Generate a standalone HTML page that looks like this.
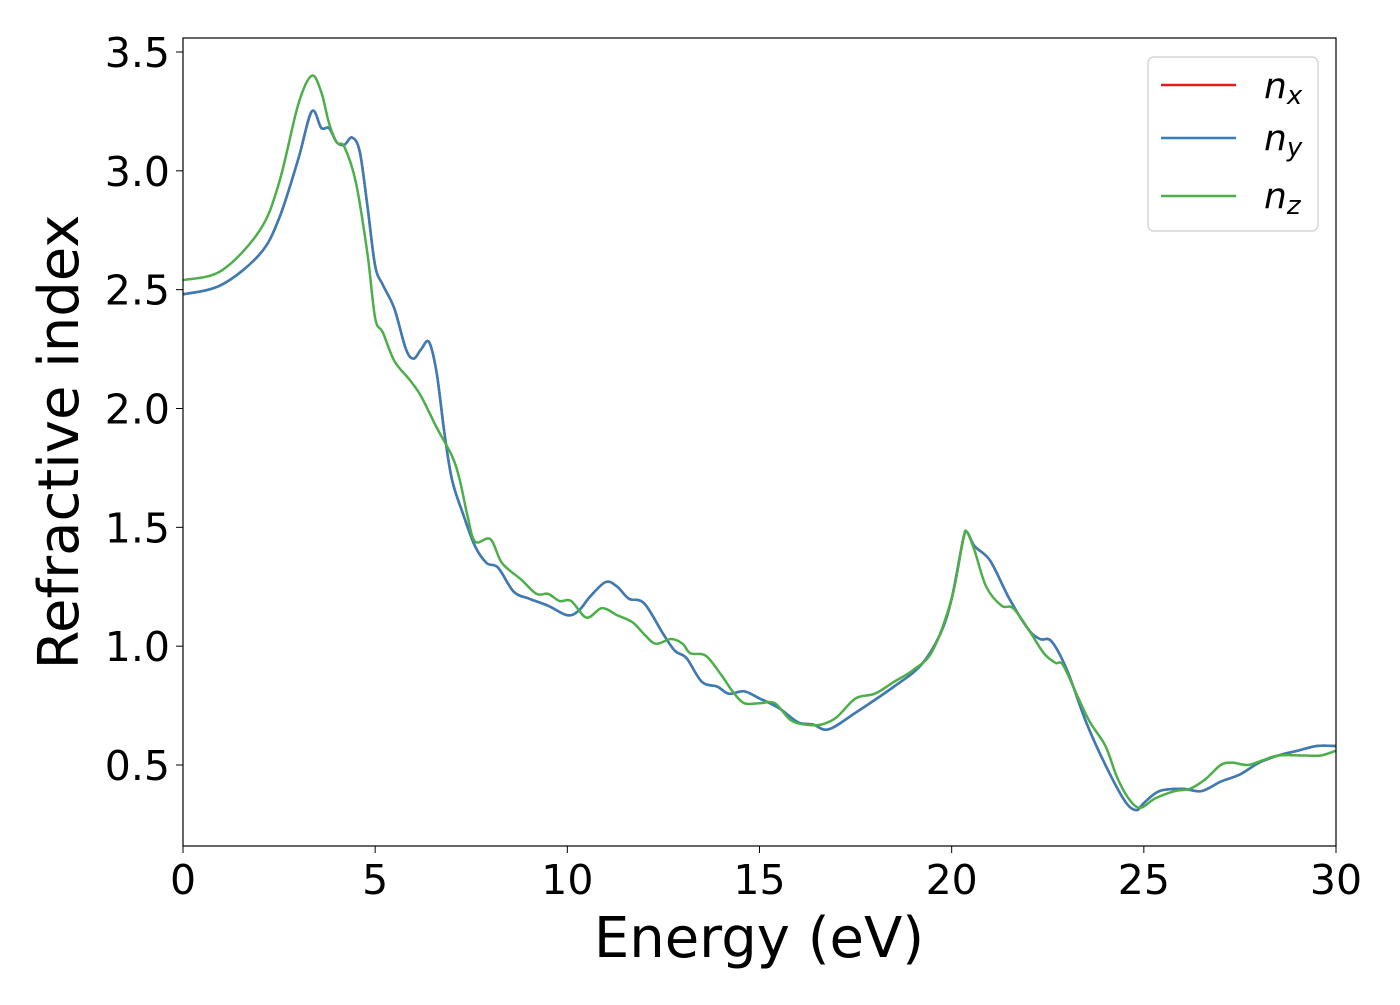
<!DOCTYPE html>
<html><head><meta charset="utf-8"><style>
body{margin:0;background:#fff}
svg text{font-family:"DejaVu Sans","Liberation Sans",sans-serif;fill:#000}
</style></head><body>
<svg id="chart" width="1400" height="1000" xmlns="http://www.w3.org/2000/svg">
<g id="ticks"></g>
<g id="series"></g>
<rect x="183" y="38" width="1153" height="808" fill="none" stroke="#000" stroke-width="1.2"/>
<text x="759" y="957" font-size="56" text-anchor="middle">Energy (eV)</text>
<text transform="translate(78,442) rotate(-90)" font-size="56" text-anchor="middle">Refractive index</text>
<g>
<rect x="1148" y="57" width="170" height="174" rx="6" fill="#fff" stroke="#ccc" stroke-width="1.2"/>
<line x1="1161" y1="85" x2="1236" y2="85" stroke="#e41a1c" stroke-width="2.5"/>
<line x1="1161" y1="138" x2="1236" y2="138" stroke="#377eb8" stroke-width="2.5"/>
<line x1="1161" y1="196" x2="1236" y2="196" stroke="#4daf4a" stroke-width="2.5"/>
<text x="1264" y="98" font-size="36" font-style="italic">n<tspan font-size="26" dy="6">x</tspan></text>
<text x="1264" y="150" font-size="36" font-style="italic">n<tspan font-size="26" dy="6">y</tspan></text>
<text x="1264" y="208" font-size="36" font-style="italic">n<tspan font-size="26" dy="6">z</tspan></text>
</g>
</svg>
<script>
const xTicks=[0,5,10,15,20,25,30];
const yTicks=[0.5,1.0,1.5,2.0,2.5,3.0,3.5];
const yTickLabels=["0.5","1.0","1.5","2.0","2.5","3.0","3.5"];
const energyXY=[0,1,2,2.5,3,3.35,3.6,3.8,4.0,4.2,4.4,4.6,4.8,5.0,5.2,5.5,5.8,6.0,6.2,6.4,6.6,6.8,7.0,7.3,7.6,7.9,8.2,8.6,9.0,9.5,10.0,10.3,10.6,11.0,11.3,11.6,12.0,12.5,12.8,13.1,13.5,13.9,14.2,14.6,15.0,15.5,16.0,16.4,16.8,17.5,18.5,19.2,19.7,20.0,20.3,20.4,20.6,21.0,21.5,22.0,22.3,22.6,23.0,23.5,24.0,24.5,24.8,25.0,25.4,26.0,26.5,27.0,27.5,28.0,28.5,29.0,29.5,30];
const nxy=[2.48,2.52,2.65,2.8,3.05,3.25,3.18,3.18,3.12,3.11,3.14,3.08,2.85,2.6,2.52,2.42,2.25,2.21,2.25,2.28,2.15,1.9,1.7,1.55,1.42,1.35,1.33,1.23,1.2,1.17,1.13,1.15,1.21,1.27,1.25,1.2,1.18,1.05,0.98,0.95,0.85,0.83,0.8,0.81,0.78,0.74,0.68,0.67,0.65,0.72,0.83,0.92,1.05,1.2,1.45,1.48,1.42,1.36,1.2,1.07,1.03,1.02,0.9,0.68,0.5,0.35,0.31,0.34,0.39,0.4,0.39,0.43,0.46,0.51,0.54,0.56,0.58,0.58];
const energyZ=[0,1,2,2.5,3.0,3.35,3.6,3.8,4.0,4.2,4.5,4.8,5.0,5.2,5.5,5.9,6.2,6.6,7.0,7.2,7.4,7.6,8.0,8.3,8.8,9.2,9.5,9.8,10.1,10.5,10.9,11.3,11.7,12.0,12.3,12.7,13.0,13.2,13.6,14.0,14.3,14.6,15.0,15.4,15.8,16.2,16.6,17.0,17.5,18.0,18.5,19.0,19.5,20.0,20.3,20.4,20.6,20.9,21.3,21.6,22.0,22.4,22.7,22.9,23.3,23.6,24.0,24.3,24.6,24.9,25.3,25.8,26.2,26.6,27.0,27.3,27.7,28.1,28.5,29.2,29.6,30];
const nz=[2.54,2.58,2.75,2.95,3.28,3.4,3.33,3.2,3.12,3.1,2.95,2.65,2.38,2.32,2.2,2.12,2.05,1.92,1.8,1.7,1.55,1.44,1.45,1.35,1.28,1.22,1.22,1.19,1.19,1.12,1.16,1.13,1.1,1.05,1.01,1.03,1.01,0.97,0.96,0.88,0.81,0.76,0.76,0.76,0.69,0.67,0.67,0.7,0.78,0.8,0.85,0.9,0.98,1.2,1.45,1.48,1.4,1.25,1.17,1.16,1.07,0.97,0.93,0.92,0.78,0.68,0.58,0.45,0.36,0.32,0.36,0.39,0.4,0.44,0.5,0.51,0.5,0.52,0.54,0.54,0.54,0.56];
const X=v=>183+v*(1153/30);
const Y=v=>765-(v-0.5)*237.67;
const NS="http://www.w3.org/2000/svg";
const tg=document.getElementById('ticks');
xTicks.forEach(t=>{
  const l=document.createElementNS(NS,'line');
  
  
  l.setAttribute('x1',X(t));l.setAttribute('x2',X(t));l.setAttribute('y1',846);l.setAttribute('y2',853);l.setAttribute('stroke','#000');
  tg.appendChild(l);
  const s=document.createElementNS(NS,'text');
  
  
  s.setAttribute('x',X(t));s.setAttribute('y',894);s.setAttribute('font-size','41');s.setAttribute('text-anchor','middle');
  s.textContent=t;tg.appendChild(s);
});
yTicks.forEach((t,i)=>{
  const l=document.createElementNS(NS,'line');
  
  
  l.setAttribute('x1',176);l.setAttribute('x2',183);l.setAttribute('y1',Y(t));l.setAttribute('y2',Y(t));l.setAttribute('stroke','#000');
  tg.appendChild(l);
  const s=document.createElementNS(NS,'text');
  
  
  s.setAttribute('x',170);s.setAttribute('y',Y(t)+15);s.setAttribute('font-size','41');s.setAttribute('text-anchor','end');
  s.textContent=yTickLabels[i];tg.appendChild(s);
});
function pathD(xs,ys){
  const p=xs.map((x,i)=>[X(x),Y(ys[i])]);
  let d='M'+p[0][0]+','+p[0][1];
  for(let i=0;i<p.length-1;i++){
    const p0=p[Math.max(0,i-1)],p1=p[i],p2=p[i+1],p3=p[Math.min(p.length-1,i+2)];
    const c1=[p1[0]+(p2[0]-p0[0])/6,p1[1]+(p2[1]-p0[1])/6];
    const c2=[p2[0]-(p3[0]-p1[0])/6,p2[1]-(p3[1]-p1[1])/6];
    d+=' C'+c1[0]+','+c1[1]+' '+c2[0]+','+c2[1]+' '+p2[0]+','+p2[1];
  }
  return d;
}
const sg=document.getElementById('series');
function addLine(xs,ys,color,name){
  const p=document.createElementNS(NS,'path');
  
  
  p.setAttribute('d',pathD(xs,ys));p.setAttribute('fill','none');p.setAttribute('stroke',color);p.setAttribute('stroke-width','2.5');
  sg.appendChild(p);
}
addLine(energyXY,nxy,'#e41a1c','nx-line');
addLine(energyXY,nxy,'#377eb8','ny-line');
addLine(energyZ,nz,'#4daf4a','nz-line');
</script>
</body></html>
